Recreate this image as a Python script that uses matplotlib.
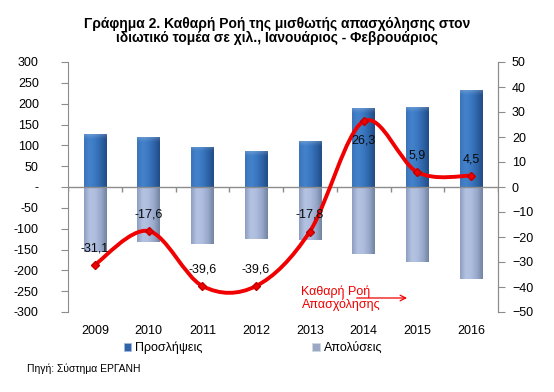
"""
Net flow of salaried employment in the private sector, Jan-Feb (chart 2)
"""

import matplotlib
matplotlib.use('Agg')
import matplotlib.pyplot as plt
import numpy as np
from matplotlib.colors import LinearSegmentedColormap
from matplotlib.patches import Patch
from matplotlib.path import Path
from matplotlib.patches import PathPatch
from matplotlib.ticker import FuncFormatter, MultipleLocator

years = ['2009', '2010', '2011', '2012', '2013', '2014', '2015', '2016']
hires = [127, 120, 97, 86, 111, 190, 192, 233]
fires = [-156, -133, -136, -124, -128, -160, -181, -222]
net_flow = [-31.1, -17.6, -39.6, -39.6, -17.8, 26.3, 5.9, 4.5]
label_above = [True, True, True, True, True, False, True, True]

plt.rcParams['font.family'] = ['Liberation Sans', 'DejaVu Sans']

GRID = '#8c8c8c'
RED = '#f00000'

blue_map = LinearSegmentedColormap.from_list(
    'blue', ['#3a74bb', '#4482cc', '#3b78c2', '#2e64a8', '#214c86'])
grey_map = LinearSegmentedColormap.from_list(
    'grey', ['#8d9ec2', '#b5c3e2', '#aebdde', '#98a8cb', '#73849f'])


def gradient_bar(the_ax, bar, cmap):
    """Paint a bar with a horizontal colour gradient and a light top bevel"""
    x, y = bar.get_xy()
    w, h = bar.get_width(), bar.get_height()
    grad = np.linspace(0, 1, 64).reshape(1, -1)
    im = the_ax.imshow(grad, extent=[x, x + w, y, y + h], aspect='auto',
                       cmap=cmap, zorder=2, interpolation='bicubic')
    im.set_clip_path(bar)
    # white highlight fading from the edge next to the zero line / top
    top = y + h if h > 0 else y
    depth = 14 if h > 0 else -22
    shine = np.zeros((32, 1, 4))
    shine[..., :3] = 1.0
    shine[:, 0, 3] = np.linspace(0.0, 0.55 if h < 0 else 0.35, 32) ** 1.5
    im2 = the_ax.imshow(shine, extent=[x, x + w, top - depth, top],
                        aspect='auto', zorder=2.1, origin='lower',
                        interpolation='bilinear')
    im2.set_clip_path(bar)
    bar.set_facecolor('none')


def smooth_path(xs, ys):
    """Bezier path through the points, like a smoothed spreadsheet line"""
    pts = np.column_stack([xs, ys]).astype(float)
    n = len(pts)
    verts = [pts[0]]
    codes = [Path.MOVETO]
    for i in range(n - 1):
        p_prev = pts[i - 1] if i > 0 else pts[i]
        p_next2 = pts[i + 2] if i + 2 < n else pts[i + 1]
        c1 = pts[i] + (pts[i + 1] - p_prev) / 6
        c2 = pts[i + 1] - (p_next2 - pts[i]) / 6
        verts += [c1, c2, pts[i + 1]]
        codes += [Path.CURVE4] * 3
    return Path(verts, codes)


fig = plt.figure(figsize=(5.54, 3.92), dpi=100)
ax = fig.add_axes([68 / 554, 1 - 312 / 392, 430 / 554, 250 / 392])
ax2 = ax.twinx()

pos = np.arange(len(years))
bars_up = ax.bar(pos, hires, width=0.42, zorder=2, linewidth=0)
bars_down = ax.bar(pos, fires, width=0.42, zorder=2, linewidth=0)
for b in bars_up:
    gradient_bar(ax, b, blue_map)
for b in bars_down:
    gradient_bar(ax, b, grey_map)

ax.axhline(0, color=GRID, lw=1, zorder=3)
ax.vlines(np.arange(len(years) + 1) - 0.5, -12, 0, color=GRID, lw=1, zorder=3)

ax.set_xlim(-0.5, len(years) - 0.5)
ax.set_ylim(-300, 300)
ax.yaxis.set_major_locator(MultipleLocator(50))
ax.yaxis.set_major_formatter(
    FuncFormatter(lambda v, p: '-' if v == 0 else f'{v:.0f}'))
ax.set_xticks(pos)
ax.set_xticklabels(years)
ax.tick_params(axis='x', length=0, pad=9, labelsize=9)
ax.tick_params(axis='y', length=5, color=GRID, pad=16, labelsize=9)

ax2.set_ylim(-50, 50)
ax2.yaxis.set_major_locator(MultipleLocator(10))
ax2.tick_params(axis='y', length=5, color=GRID, pad=5, labelsize=9)

for a in (ax, ax2):
    a.spines['top'].set_visible(False)
    a.spines['bottom'].set_visible(False)
    a.spines['left'].set_color(GRID)
    a.spines['right'].set_color(GRID)
ax2.spines['left'].set_visible(False)

# Smoothed net flow line on the right axis
ax2.add_patch(PathPatch(smooth_path(pos, net_flow), fill=False,
                        edgecolor=RED, lw=2.8, zorder=4,
                        capstyle='round'))
ax2.plot(pos, net_flow, ls='none', marker='D', ms=4.5, color=RED,
         markeredgecolor='#c00000', zorder=5)
for x, v, up in zip(pos, net_flow, label_above):
    ax2.annotate(f'{v:.1f}'.replace('.', ','), xy=(x, v),
                 xytext=(0, 12 if up else -14), textcoords='offset points',
                 ha='center', va='center', fontsize=9, color='#0a0a0a',
                 zorder=6)

ax2.annotate('', xy=(0.795, 0.056), xytext=(0.665, 0.056),
             xycoords='axes fraction',
             arrowprops=dict(arrowstyle='->', color=RED, lw=0.9))
ax2.text(0.543, 0.056, 'Καθαρή Ροή\nΑπασχόλησης', transform=ax2.transAxes,
         ha='left', va='center', color=RED, fontsize=9, linespacing=1.0)

fig.text(0.5, 1 - 31 / 392,
         'Γράφημα 2. Καθαρή Ροή της μισθωτής απασχόλησης στον\n'
         'ιδιωτικό τομέα σε χιλ., Ιανουάριος - Φεβρουάριος',
         ha='center', va='center', fontsize=10, fontweight='bold',
         linespacing=1.0)

handles = [Patch(facecolor='#2f65a8', edgecolor='#9fb8dc', lw=0.5),
           Patch(facecolor='#9aa8c4', edgecolor='#d0d8e8', lw=0.5)]
fig.legend(handles, ['Προσλήψεις', 'Απολύσεις'], loc='center',
           bbox_to_anchor=(253 / 554, 1 - 348 / 392), ncol=2, frameon=False,
           fontsize=9, handlelength=0.6, handleheight=0.6, handletextpad=0.3,
           columnspacing=8.8)

fig.text(27 / 554, 1 - 369 / 392, 'Πηγή: Σύστημα ΕΡΓΑΝΗ', fontsize=7.5,
         ha='left', va='center')

fig.savefig('out.png', dpi=100)
